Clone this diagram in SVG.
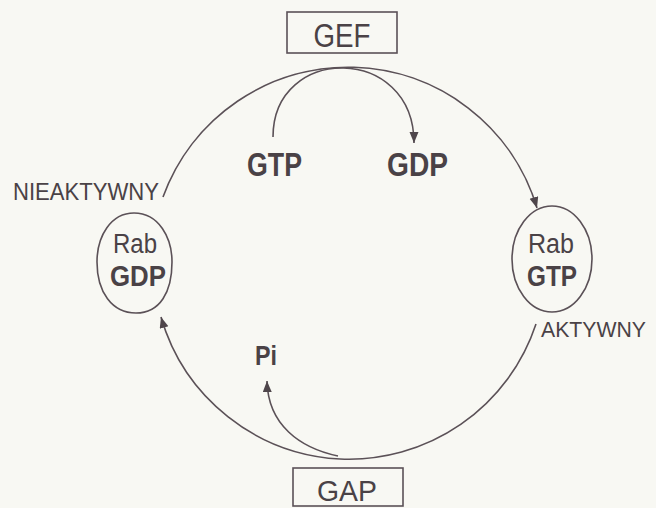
<svg xmlns="http://www.w3.org/2000/svg" width="656" height="508" viewBox="0 0 656 508">
<style>
.ln{fill:none;stroke:#5b5157;stroke-width:1.6}
.t{font-family:"Liberation Sans",Arial,sans-serif;fill:#4a4246}
.b{font-weight:bold}
.m{text-anchor:middle}
</style>
<defs>
<marker id="ah" markerUnits="userSpaceOnUse" markerWidth="12" markerHeight="10" refX="11" refY="4.5" orient="auto">
<path d="M0,0 L11,4.5 L0,9 Z" fill="#4f464b"/>
</marker>
</defs>
<rect width="656" height="508" fill="#f8f8f3"/>
<g id="connectors">
<path class="ln" d="M163,197 A197,197 0 0 1 537,208" marker-end="url(#ah)"/>
<path class="ln" d="M536,324 A197,197 0 0 1 340,459"/>
<path class="ln" d="M340,459 A197,197 0 0 1 161,317" marker-end="url(#ah)"/>
<path class="ln" d="M273,137 C273,44 414,44 414,143" marker-end="url(#ah)"/>
<path class="ln" d="M338,456 C300,448 268,425 267,381" marker-end="url(#ah)"/>
</g>
<g id="gef">
<rect x="287" y="12" width="110" height="41" class="ln"/>
<text class="t m" x="342" y="47" font-size="33" textLength="57" lengthAdjust="spacingAndGlyphs">GEF</text>
</g>
<g id="gap">
<rect x="293" y="468" width="110" height="38" class="ln"/>
<text class="t m" x="347" y="501" font-size="30" textLength="60" lengthAdjust="spacingAndGlyphs">GAP</text>
</g>
<g id="gtp">
<text class="t b m" x="274.5" y="176" font-size="33" textLength="55" lengthAdjust="spacingAndGlyphs">GTP</text>
</g>
<g id="gdp">
<text class="t b m" x="417.5" y="176" font-size="33" textLength="61" lengthAdjust="spacingAndGlyphs">GDP</text>
</g>
<g id="pi">
<text class="t b m" x="266" y="365" font-size="28" textLength="22" lengthAdjust="spacingAndGlyphs">Pi</text>
</g>
<g id="rab-gdp">
<path class="ln" d="M134,213 C159,213 172,238 172,262 C172,292 160,313 136,313 C112,313 97,292 97,262 C97,236 111,213 134,213 Z"/>
<text class="t m" x="135" y="253" font-size="27" textLength="44" lengthAdjust="spacingAndGlyphs">Rab</text>
<text class="t b m" x="138" y="286" font-size="29" textLength="56" lengthAdjust="spacingAndGlyphs">GDP</text>
</g>
<g id="rab-gtp">
<ellipse class="ln" cx="552" cy="259" rx="40" ry="53"/>
<text class="t m" x="551" y="253" font-size="27" textLength="46" lengthAdjust="spacingAndGlyphs">Rab</text>
<text class="t b m" x="552" y="286" font-size="29" textLength="50" lengthAdjust="spacingAndGlyphs">GTP</text>
</g>
<g id="nieaktywny">
<text class="t" x="13" y="200" font-size="24" textLength="146" lengthAdjust="spacingAndGlyphs">NIEAKTYWNY</text>
</g>
<g id="aktywny">
<text class="t" x="541" y="337" font-size="22" textLength="105" lengthAdjust="spacingAndGlyphs">AKTYWNY</text>
</g>
</svg>
